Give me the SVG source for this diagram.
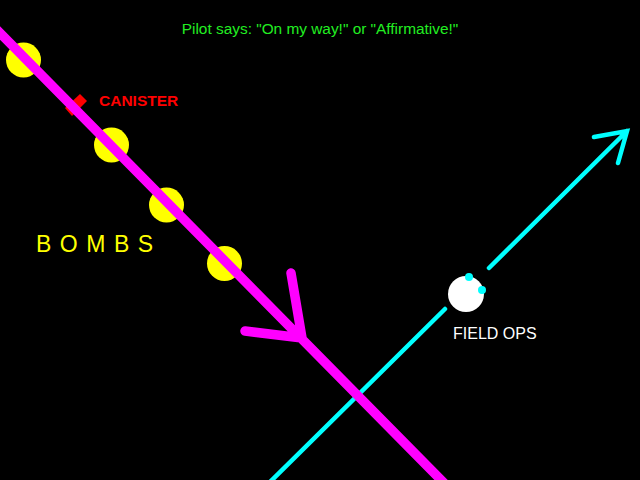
<svg xmlns="http://www.w3.org/2000/svg" width="640" height="480" viewBox="0 0 640 480">
<style>
.bomb{fill:#ffff00}
.mag{stroke:#ff00ff;stroke-width:9.5;stroke-linecap:round;fill:none}
.cyan{stroke:#00ffff;stroke-width:4.5;stroke-linecap:round;fill:none}
.lbl{font-family:"Liberation Sans",Arial,sans-serif}
</style>
<rect x="0" y="0" width="640" height="480" fill="#000"/>
<g id="title"><text class="lbl" x="320" y="34" text-anchor="middle" font-size="15.4" fill="#22ee22">Pilot says: "On my way!" or "Affirmative!"</text></g>
<g id="bombs">
<circle class="bomb" cx="23.5" cy="60" r="17.5"/>
<circle class="bomb" cx="111.5" cy="145" r="17.5"/>
<circle class="bomb" cx="166.5" cy="205" r="17.5"/>
<circle class="bomb" cx="224.5" cy="263.5" r="17.5"/>
<text class="lbl" x="36" y="252" font-size="23" letter-spacing="8.5" fill="#ffff00">BOMBS</text>
</g>
<g id="canister">
<polygon points="80,94 87,101 72,116 65,108" fill="#ff0000"/>
<text class="lbl" x="99" y="106" font-size="15.5" font-weight="bold" fill="#ff0000">CANISTER</text>
</g>
<g id="field-ops">
<circle cx="466" cy="294" r="18" fill="#ffffff"/>
<circle cx="469" cy="277" r="4" fill="#00ffff"/>
<circle cx="482" cy="290" r="4" fill="#00ffff"/>
<text class="lbl" x="453" y="339" font-size="16" fill="#ffffff">FIELD OPS</text>
</g>
<g id="connectors">
<path class="cyan" d="M270,482 L445,309 M489,268 L627,131 M594,137 L627,131 L618,163"/>
<path class="mag" d="M-5,28 L446,485 M291,273 L302,338 L245,331"/>
</g>
</svg>
